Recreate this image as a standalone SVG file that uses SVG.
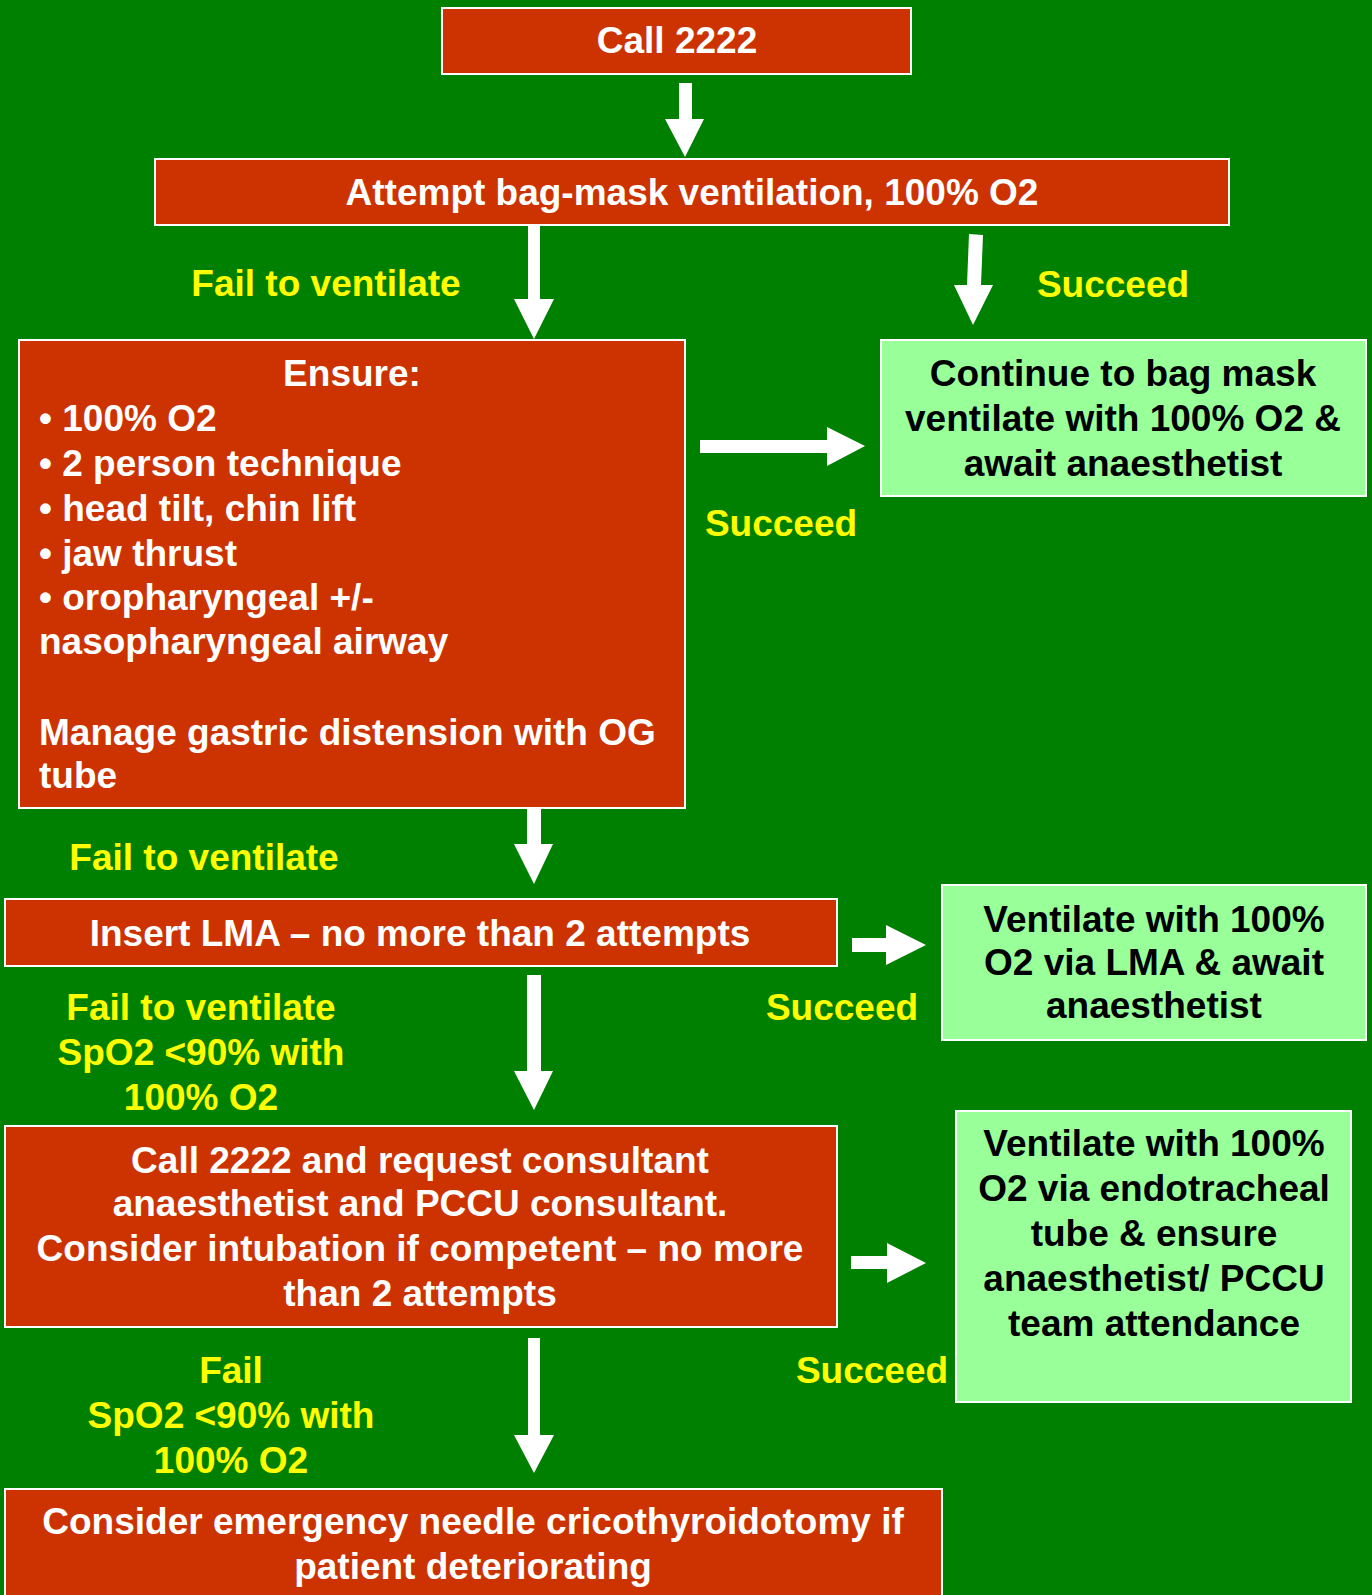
<svg xmlns="http://www.w3.org/2000/svg" width="1372" height="1595" viewBox="0 0 1372 1595">
  <style>
    .step { fill: #CC3300; stroke: #FFFFFF; stroke-width: 2; }
    .ok { fill: #99FF99; stroke: #FFFFFF; stroke-width: 2; }
    text { font-family: "Liberation Sans", Arial, Helvetica, sans-serif; font-weight: bold; font-size: 37px; }
    .w { fill: #FFFFFF; }
    .k { fill: #000000; }
    .y { fill: #FFFF00; }
    .c { text-anchor: middle; }
    .arrow { fill: #FFFFFF; }
  </style>

  <!-- background -->
  <rect x="0" y="0" width="1372" height="1595" fill="#008000"/>

  <!-- block arrows -->
  <g id="connectors">
    <polygon class="arrow" points="679,83 692,83 692,119 704,119 685,157 665,119 679,119"/>
    <polygon class="arrow" points="528,226 540,226 540,299 554,299 534,339 514,299 528,299"/>
    <polygon class="arrow" points="969,234 983,235 981,285 993,285 973,325 954,285 967,285"/>
    <polygon class="arrow" points="700,440 827,440 827,427 865,446 827,466 827,453 700,453"/>
    <polygon class="arrow" points="527,808 541,808 541,844 553,844 534,884 514,844 527,844"/>
    <polygon class="arrow" points="852,938 886,938 886,925 926,945 886,965 886,952 852,952"/>
    <polygon class="arrow" points="527,975 541,975 541,1071 553,1071 534,1110 514,1071 527,1071"/>
    <polygon class="arrow" points="851,1256 887,1256 887,1243 926,1263 887,1283 887,1269 851,1269"/>
    <polygon class="arrow" points="528,1338 540,1338 540,1435 554,1435 534,1473 514,1435 528,1435"/>
  </g>

  <!-- branch labels -->
  <g id="labels">
    <text class="y c" x="326" y="296">Fail to ventilate</text>
    <text class="y c" x="1113" y="297">Succeed</text>
    <text class="y c" x="781" y="536">Succeed</text>
    <text class="y c" x="204" y="870">Fail to ventilate</text>
    <text class="y c" x="842" y="1020">Succeed</text>
    <text class="y c" x="201" y="1020">Fail to ventilate</text>
    <text class="y c" x="201" y="1065">SpO2 &lt;90% with</text>
    <text class="y c" x="201" y="1110">100% O2</text>
    <text class="y c" x="872" y="1383">Succeed</text>
    <text class="y c" x="231" y="1383">Fail</text>
    <text class="y c" x="231" y="1428">SpO2 &lt;90% with</text>
    <text class="y c" x="231" y="1473">100% O2</text>
  </g>

  <g id="call-2222">
    <rect class="step" x="442" y="8" width="469" height="66"/>
    <text class="w c" x="677" y="53">Call 2222</text>
  </g>

  <g id="bag-mask">
    <rect class="step" x="155" y="159" width="1074" height="66"/>
    <text class="w c" x="692" y="205">Attempt bag-mask ventilation, 100% O2</text>
  </g>

  <g id="ensure">
    <rect class="step" x="19" y="340" width="666" height="468"/>
    <text class="w c" x="352" y="386">Ensure:</text>
    <text class="w" x="39" y="431">• 100% O2</text>
    <text class="w" x="39" y="476">• 2 person technique</text>
    <text class="w" x="39" y="521">• head tilt, chin lift</text>
    <text class="w" x="39" y="566">• jaw thrust</text>
    <text class="w" x="39" y="610">• oropharyngeal +/-</text>
    <text class="w" x="39" y="654">nasopharyngeal airway</text>
    <text class="w" x="39" y="745">Manage gastric distension with OG</text>
    <text class="w" x="39" y="788">tube</text>
  </g>

  <g id="continue-bag-mask">
    <rect class="ok" x="881" y="340" width="485" height="156"/>
    <text class="k c" x="1123" y="386">Continue to bag mask</text>
    <text class="k c" x="1123" y="431">ventilate with 100% O2 &amp;</text>
    <text class="k c" x="1123" y="476">await anaesthetist</text>
  </g>

  <g id="insert-lma">
    <rect class="step" x="5" y="899" width="832" height="67"/>
    <text class="w c" x="420" y="946">Insert LMA – no more than 2 attempts</text>
  </g>

  <g id="ventilate-lma">
    <rect class="ok" x="942" y="885" width="424" height="155"/>
    <text class="k c" x="1154" y="932">Ventilate with 100%</text>
    <text class="k c" x="1154" y="975">O2 via LMA &amp; await</text>
    <text class="k c" x="1154" y="1018">anaesthetist</text>
  </g>

  <g id="call-consultant">
    <rect class="step" x="5" y="1126" width="832" height="201"/>
    <text class="w c" x="420" y="1173">Call 2222 and request consultant</text>
    <text class="w c" x="420" y="1216">anaesthetist and PCCU consultant.</text>
    <text class="w c" x="420" y="1261">Consider intubation if competent – no more</text>
    <text class="w c" x="420" y="1306">than 2 attempts</text>
  </g>

  <g id="ventilate-ett">
    <rect class="ok" x="956" y="1111" width="395" height="291"/>
    <text class="k c" x="1154" y="1156">Ventilate with 100%</text>
    <text class="k c" x="1154" y="1201">O2 via endotracheal</text>
    <text class="k c" x="1154" y="1246">tube &amp; ensure</text>
    <text class="k c" x="1154" y="1291">anaesthetist/ PCCU</text>
    <text class="k c" x="1154" y="1336">team attendance</text>
  </g>

  <g id="cricothyroidotomy">
    <rect class="step" x="5" y="1489" width="937" height="130"/>
    <text class="w c" x="473" y="1534">Consider emergency needle cricothyroidotomy if</text>
    <text class="w c" x="473" y="1579">patient deteriorating</text>
  </g>
</svg>
